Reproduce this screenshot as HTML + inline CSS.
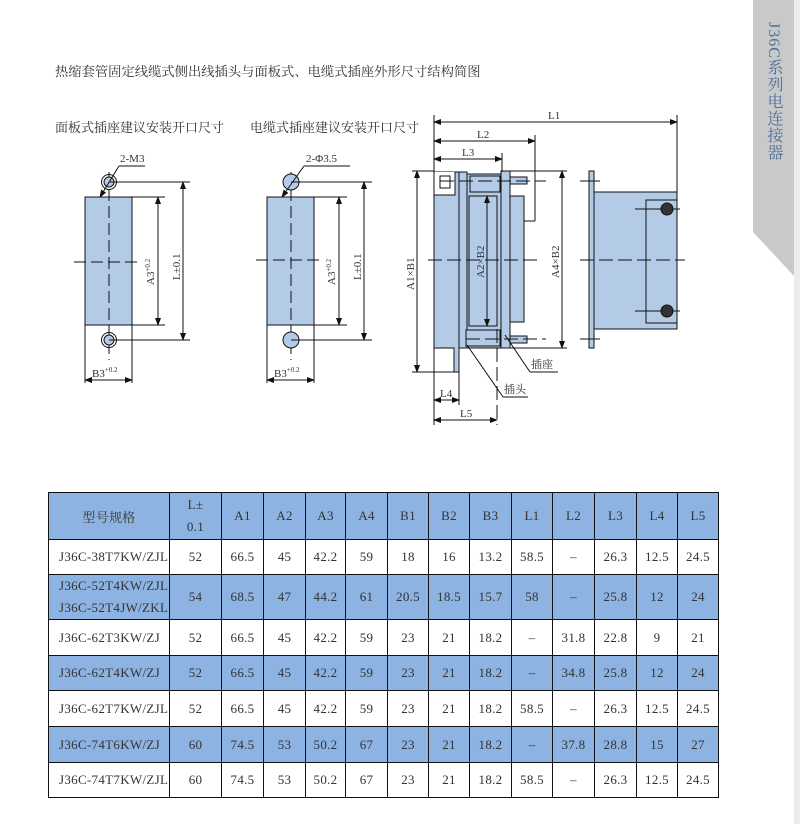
<!DOCTYPE html>
<html><head><meta charset="utf-8"><style>
body{margin:0;width:800px;height:824px;background:#fff;position:relative;overflow:hidden;font-family:"Liberation Serif","Noto Serif CJK SC",serif;color:#333}
.t{position:absolute;font-size:13px;white-space:nowrap}
table{position:absolute;left:48px;top:492px;border-collapse:collapse;table-layout:fixed;font-size:13px;letter-spacing:0.3px}
td{border:1.3px solid #111;text-align:center;padding:0;color:#333}
tr.b td{background:#8db3e2}
td.m{text-align:left;padding-left:10px}
</style></head><body>
<div style="position:absolute;left:753px;top:0;width:41px;height:276px;background:#c8c9cb;clip-path:polygon(0 0,100% 0,100% 100%,0 232px)"></div>
<div style="position:absolute;left:794px;top:0;width:6px;height:824px;background:#ececec"></div>
<div style="position:absolute;left:762px;top:22px;writing-mode:vertical-rl;font-size:16px;letter-spacing:1px;color:#4f6f94;font-family:'Liberation Serif','Noto Serif CJK SC',serif">J36C系列电连接器</div>
<div class="t" style="left:55px;top:61px;font-size:13.3px">热缩套管固定线缆式侧出线插头与面板式、电缆式插座外形尺寸结构简图</div>
<div class="t" style="left:55px;top:117px">面板式插座建议安装开口尺寸　　电缆式插座建议安装开口尺寸</div>
<svg style="position:absolute;left:0;top:0" width="800" height="480" font-family="Liberation Serif,Noto Serif CJK SC,serif" font-size="11" fill="#333">
<defs><marker id="a" markerWidth="8" markerHeight="6" refX="7" refY="3" orient="auto-start-reverse"><path d="M0,0L8,3L0,6z" fill="#111"/></marker></defs>
<g stroke="#111" stroke-width="1">
<rect x="85" y="197" width="47" height="128" fill="#b4cbe8"/>
<line x1="85" y1="325" x2="85" y2="383"/><line x1="132" y1="325" x2="132" y2="383"/>
<line x1="85" y1="380" x2="132" y2="380" marker-start="url(#a)" marker-end="url(#a)"/>
<line x1="109" y1="172" x2="109" y2="360" stroke-dasharray="12,5"/>
<line x1="74" y1="262" x2="140" y2="262" stroke-dasharray="12,5"/>
<circle cx="109" cy="182" r="5" fill="#b4cbe8"/><circle cx="109" cy="182" r="7.5" fill="none"/>
<circle cx="109" cy="340" r="5" fill="#b4cbe8"/><circle cx="109" cy="340" r="7.5" fill="none"/>
<line x1="132" y1="197" x2="165" y2="197"/><line x1="132" y1="325" x2="165" y2="325"/>
<line x1="158" y1="197" x2="158" y2="325" marker-start="url(#a)" marker-end="url(#a)"/>
<line x1="109" y1="182" x2="190" y2="182"/><line x1="109" y1="340" x2="190" y2="340"/>
<line x1="183" y1="182" x2="183" y2="340" marker-start="url(#a)" marker-end="url(#a)"/>
<line x1="100" y1="197" x2="119" y2="166" marker-start="url(#a)"/><line x1="119" y1="166" x2="145" y2="166"/>
<rect x="267" y="197" width="47" height="128" fill="#b4cbe8"/>
<line x1="267" y1="325" x2="267" y2="383"/><line x1="314" y1="325" x2="314" y2="383"/>
<line x1="267" y1="380" x2="314" y2="380" marker-start="url(#a)" marker-end="url(#a)"/>
<line x1="291" y1="172" x2="291" y2="360" stroke-dasharray="12,5"/>
<line x1="256" y1="260" x2="322" y2="260" stroke-dasharray="12,5"/>
<circle cx="291" cy="182" r="8" fill="#b4cbe8"/><circle cx="291" cy="340" r="8" fill="#b4cbe8"/>
<line x1="314" y1="197" x2="347" y2="197"/><line x1="314" y1="325" x2="347" y2="325"/>
<line x1="339" y1="197" x2="339" y2="325" marker-start="url(#a)" marker-end="url(#a)"/>
<line x1="291" y1="182" x2="372" y2="182"/><line x1="291" y1="340" x2="372" y2="340"/>
<line x1="364" y1="182" x2="364" y2="340" marker-start="url(#a)" marker-end="url(#a)"/>
<line x1="282" y1="197" x2="304" y2="166" marker-start="url(#a)"/><line x1="304" y1="166" x2="350" y2="166"/>
<path d="M434,172H459V372H454V348H434Z" fill="#b4cbe8"/>
<rect x="434" y="172" width="21" height="23" fill="#fff" stroke="none"/>
<path d="M434,195H455V172" fill="none"/>
<rect x="440" y="176" width="10" height="12" fill="#fff"/>
<rect x="459" y="172" width="8" height="176" fill="#b4cbe8"/>
<rect x="467" y="174" width="34" height="174" fill="#b4cbe8"/>
<rect x="469" y="196" width="28" height="130" fill="#b4cbe8"/>
<rect x="470" y="176" width="30" height="16" fill="#b4cbe8"/>
<rect x="466" y="330" width="34" height="16" fill="#b4cbe8"/>
<rect x="501" y="171" width="9" height="177" fill="#b4cbe8"/>
<rect x="510" y="196" width="14" height="126" fill="#b4cbe8"/>
<rect x="510" y="177" width="17" height="7" fill="#b4cbe8"/><rect x="510" y="336" width="17" height="7" fill="#b4cbe8"/>
<line x1="434" y1="115" x2="434" y2="425"/>
<line x1="434" y1="122" x2="677" y2="122" marker-start="url(#a)" marker-end="url(#a)"/>
<line x1="677" y1="115" x2="677" y2="205"/>
<line x1="434" y1="141" x2="535" y2="141" marker-start="url(#a)" marker-end="url(#a)"/>
<line x1="535" y1="135" x2="535" y2="221"/><line x1="524" y1="221" x2="535" y2="221"/>
<line x1="434" y1="159" x2="502" y2="159" marker-start="url(#a)" marker-end="url(#a)"/>
<line x1="502" y1="153" x2="502" y2="172"/>
<line x1="412" y1="171" x2="434" y2="171"/><line x1="412" y1="372" x2="454" y2="372"/>
<line x1="417" y1="171" x2="417" y2="372" marker-start="url(#a)" marker-end="url(#a)"/>
<line x1="487" y1="196" x2="487" y2="326" marker-start="url(#a)" marker-end="url(#a)"/>
<line x1="497" y1="196" x2="497" y2="425" stroke-dasharray="14,5"/>
<line x1="510" y1="171" x2="567" y2="171"/><line x1="510" y1="348" x2="567" y2="348"/>
<line x1="562" y1="171" x2="562" y2="348" marker-start="url(#a)" marker-end="url(#a)"/>
<line x1="428" y1="260" x2="540" y2="260" stroke-dasharray="14,5"/>
<line x1="440" y1="181" x2="546" y2="181" stroke-dasharray="14,5"/>
<line x1="466" y1="339" x2="546" y2="339" stroke-dasharray="14,5"/>
<line x1="459" y1="372" x2="459" y2="405"/>
<line x1="434" y1="400" x2="459" y2="400" marker-start="url(#a)" marker-end="url(#a)"/>
<line x1="434" y1="420" x2="497" y2="420" marker-start="url(#a)" marker-end="url(#a)"/>
<line x1="505" y1="335" x2="530" y2="372"/><line x1="530" y1="372" x2="558" y2="372"/>
<line x1="467" y1="345" x2="503" y2="397"/><line x1="503" y1="397" x2="528" y2="397"/>
<rect x="589" y="171" width="5" height="177" fill="#b4cbe8"/>
<path d="M594,192H677V329H594Z" fill="#b4cbe8"/>
<rect x="646" y="200" width="31" height="123" fill="#b4cbe8"/>
<line x1="580" y1="181" x2="600" y2="181"/><line x1="580" y1="339" x2="600" y2="339"/>
<line x1="580" y1="260" x2="685" y2="260" stroke-dasharray="14,5"/>
<line x1="635" y1="209" x2="680" y2="209"/><line x1="635" y1="311" x2="680" y2="311"/>
<circle cx="667" cy="209" r="6" fill="#333"/><circle cx="667" cy="311" r="6" fill="#333"/>
</g>
<text x="120" y="162">2-M3</text><text x="306" y="162">2-Φ3.5</text>
<text x="92" y="377">B3<tspan font-size="7" dy="-5">+0.2</tspan></text>
<text x="274" y="377">B3<tspan font-size="7" dy="-5">+0.2</tspan></text>
<text transform="translate(154,285) rotate(-90)">A3<tspan font-size="7" dy="-4">+0.2</tspan></text>
<text transform="translate(180,280) rotate(-90)">L±0.1</text>
<text transform="translate(335,285) rotate(-90)">A3<tspan font-size="7" dy="-4">+0.2</tspan></text>
<text transform="translate(361,280) rotate(-90)">L±0.1</text>
<text x="548" y="119">L1</text><text x="477" y="138">L2</text><text x="462" y="156">L3</text>
<text x="440" y="397">L4</text><text x="460" y="417">L5</text>
<text transform="translate(414,290) rotate(-90)">A1×B1</text>
<text transform="translate(484,278) rotate(-90)">A2×B2</text>
<text transform="translate(559,278) rotate(-90)">A4×B2</text>
<text x="531" y="368">插座</text><text x="504" y="393">插头</text>
</svg>
<table>
<colgroup><col style="width:121px"><col style="width:52px"><col style="width:42px"><col style="width:42px"><col style="width:40px"><col style="width:42px"><col style="width:41px"><col style="width:41px"><col style="width:42px"><col style="width:41px"><col style="width:42px"><col style="width:42px"><col style="width:41px"><col style="width:41px"></colgroup>
<tr class="b" style="height:47px"><td>型号规格</td><td style="line-height:22px">L±<br>0.1</td><td>A1</td><td>A2</td><td>A3</td><td>A4</td><td>B1</td><td>B2</td><td>B3</td><td>L1</td><td>L2</td><td>L3</td><td>L4</td><td>L5</td></tr>
<tr style="height:35px"><td class="m">J36C-38T7KW/ZJL</td><td>52</td><td>66.5</td><td>45</td><td>42.2</td><td>59</td><td>18</td><td>16</td><td>13.2</td><td>58.5</td><td>–</td><td>26.3</td><td>12.5</td><td>24.5</td></tr>
<tr class="b" style="height:44px"><td class="m" style="line-height:22px">J36C-52T4KW/ZJL<br>J36C-52T4JW/ZKL</td><td>54</td><td>68.5</td><td>47</td><td>44.2</td><td>61</td><td>20.5</td><td>18.5</td><td>15.7</td><td>58</td><td>–</td><td>25.8</td><td>12</td><td>24</td></tr>
<tr style="height:36px"><td class="m">J36C-62T3KW/ZJ</td><td>52</td><td>66.5</td><td>45</td><td>42.2</td><td>59</td><td>23</td><td>21</td><td>18.2</td><td>–</td><td>31.8</td><td>22.8</td><td>9</td><td>21</td></tr>
<tr class="b" style="height:35px"><td class="m">J36C-62T4KW/ZJ</td><td>52</td><td>66.5</td><td>45</td><td>42.2</td><td>59</td><td>23</td><td>21</td><td>18.2</td><td>–</td><td>34.8</td><td>25.8</td><td>12</td><td>24</td></tr>
<tr style="height:36px"><td class="m">J36C-62T7KW/ZJL</td><td>52</td><td>66.5</td><td>45</td><td>42.2</td><td>59</td><td>23</td><td>21</td><td>18.2</td><td>58.5</td><td>–</td><td>26.3</td><td>12.5</td><td>24.5</td></tr>
<tr class="b" style="height:36px"><td class="m">J36C-74T6KW/ZJ</td><td>60</td><td>74.5</td><td>53</td><td>50.2</td><td>67</td><td>23</td><td>21</td><td>18.2</td><td>–</td><td>37.8</td><td>28.8</td><td>15</td><td>27</td></tr>
<tr style="height:35px"><td class="m">J36C-74T7KW/ZJL</td><td>60</td><td>74.5</td><td>53</td><td>50.2</td><td>67</td><td>23</td><td>21</td><td>18.2</td><td>58.5</td><td>–</td><td>26.3</td><td>12.5</td><td>24.5</td></tr>
</table>
</body></html>
